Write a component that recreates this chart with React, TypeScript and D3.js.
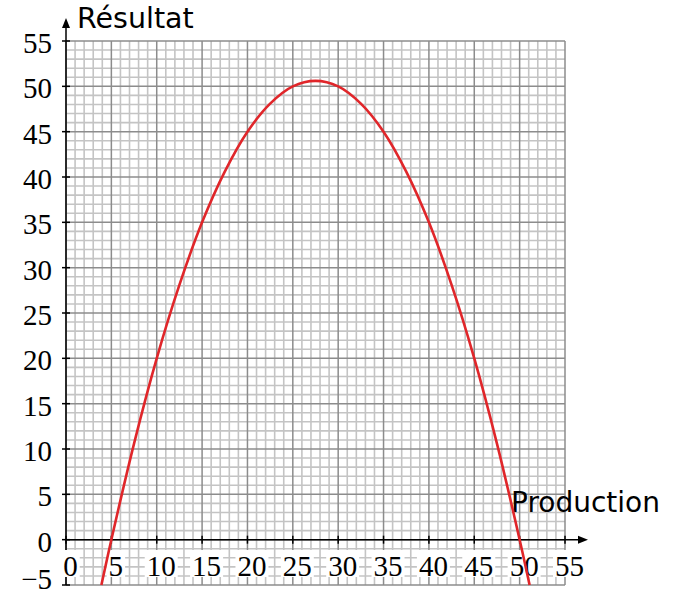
import React from 'react';
import { scaleLinear, line, curveCatmullRom, range } from 'd3';

// points (production -> résultat)
const prodValues = [3.9, 5, 7.5, 10, 12.5, 15, 17.5, 20, 22.5, 25, 27.5, 30, 32.5, 35, 37.5, 40, 42.5, 45, 47.5, 50, 51.1];
const resultValues = [-5, 0, 10.6, 20, 28.1, 35, 40.6, 45, 48.1, 50, 50.6, 50, 48.1, 45, 40.6, 35, 28.1, 20, 10.6, 0, -5];

const xTicks = [0, 5, 10, 15, 20, 25, 30, 35, 40, 45, 50, 55];
const yTicks = [-5, 0, 5, 10, 15, 20, 25, 30, 35, 40, 45, 50, 55];
const xTitle = 'Production';
const yTitle = 'Résultat';

const W = 680;
const H = 596;
const serif = '"Liberation Serif", "DejaVu Serif", serif';
const sans = '"DejaVu Sans", sans-serif';

export default function App() {
  const x = scaleLinear().domain([0, 55]).range([66, 565]);
  const y = scaleLinear().domain([-5, 55]).range([585, 41]);

  const minorX = range(0, 56, 1);
  const minorY = range(-5, 56, 1);

  const pts = prodValues.map((p, i) => [p, resultValues[i]] as [number, number]);
  const path = line<[number, number]>()
    .x(d => x(d[0]))
    .y(d => y(d[1]))
    .curve(curveCatmullRom.alpha(0.5))(pts);

  const fmt = (v: number) => (v < 0 ? '\u2212' + Math.abs(v) : String(v));

  return (
    <svg width={W} height={H} style={{ position: 'absolute', left: 0, top: 0, background: '#fff' }}>
      {/* minor grid */}
      <g stroke="#c4c4c4" strokeWidth={1.6}>
        {minorX.filter(v => v % 5 !== 0).map(v => (
          <line key={'mx' + v} x1={x(v)} x2={x(v)} y1={y(-5)} y2={y(55)} />
        ))}
        {minorY.filter(v => v % 5 !== 0).map(v => (
          <line key={'my' + v} y1={y(v)} y2={y(v)} x1={x(0)} x2={x(55)} />
        ))}
      </g>
      {/* major grid */}
      <g stroke="#8c8c8c" strokeWidth={1.5}>
        {xTicks.map(v => (
          <line key={'Mx' + v} x1={x(v)} x2={x(v)} y1={y(-5)} y2={y(55)} />
        ))}
        {yTicks.map(v => (
          <line key={'My' + v} y1={y(v)} y2={y(v)} x1={x(0)} x2={x(55)} />
        ))}
      </g>

      {/* axes */}
      <g stroke="#000" strokeWidth={1.5}>
        <line x1={x(0)} x2={x(0)} y1={y(-5)} y2={24} />
        <line x1={x(0)} x2={580} y1={y(0)} y2={y(0)} />
        {xTicks.map(v => (
          <line key={'tx' + v} x1={x(v)} x2={x(v)} y1={y(0) - 4} y2={y(0) + 4} />
        ))}
        {yTicks.map(v => (
          <line key={'ty' + v} x1={x(0) - 4} x2={x(0) + 4} y1={y(v)} y2={y(v)} />
        ))}
      </g>
      <path d={`M${x(0)},18 L${x(0) - 4},28 L${x(0) + 4},28 Z`} fill="#000" />
      <path d={`M588,${y(0)} L578,${y(0) - 4} L578,${y(0) + 4} Z`} fill="#000" />

      {/* y tick labels */}
      <g fontFamily={serif} fontSize={29} fill="#000" textAnchor="end">
        {yTicks.map(v => (
          <text key={'ly' + v} x={52} y={Math.min(y(v) + 12, 589)}>{fmt(v)}</text>
        ))}
      </g>
      {/* x tick labels with white boxes */}
      <g fontFamily={serif} fontSize={29} fill="#000" textAnchor="middle">
        {xTicks.map(v => {
          const w = String(v).length * 14.5 + 4;
          const cx = x(v) + 4.5;
          return (
            <g key={'lx' + v}>
              <rect x={cx - w / 2} y={550} width={w} height={27} fill="#fff" />
              <text x={cx} y={576}>{fmt(v)}</text>
            </g>
          );
        })}
      </g>

      {/* axis titles */}
      <text x={77} y={28} fontFamily={sans} fontSize={28.5} fill="#000">{yTitle}</text>
      <text x={511} y={512} fontFamily={sans} fontSize={28} fill="#000">{xTitle}</text>

      {/* curve */}
      <path d={path ?? ''} fill="none" stroke="#e0262a" strokeWidth={2.6} />
    </svg>
  );
}
